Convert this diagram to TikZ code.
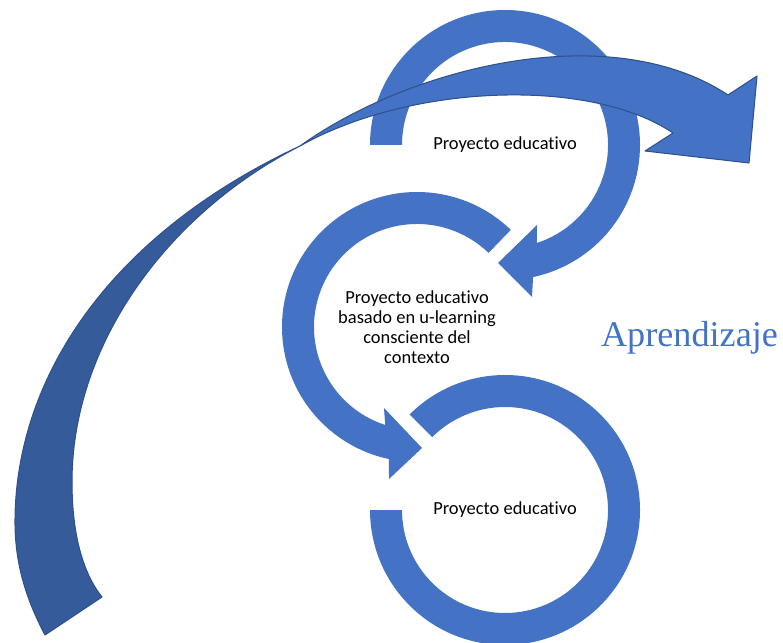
\documentclass[tikz,border=0pt]{standalone}
\usepackage{fontspec}
\setmainfont{Carlito}[Ligatures=NoCommon]
\newfontfamily\titlefont{Liberation Serif}
\usetikzlibrary{calc}
\usepackage{xcolor}
\definecolor{ringblue}{RGB}{68, 114, 196}
\definecolor{backblue}{RGB}{53, 91, 155}
\definecolor{edgeblue}{RGB}{47, 82, 143}
\definecolor{textdark}{RGB}{0, 0, 0}

\begin{document}
\begin{tikzpicture}[
    x=0.02cm, y=0.02cm,
    ring/.style={fill=ringblue, draw=none},
    sweep/.style={draw=edgeblue, line width=0.6pt, line join=round},
    cycletext/.style={font=\fontsize{10.5}{11.4}\selectfont, align=center, text=textdark, inner sep=0pt},
]
\useasboundingbox (0,0) rectangle (783,642);

% ring centres
\coordinate (c1) at (505,497);
\coordinate (c2) at (417,315);
\coordinate (c3) at (505,132);

% top ring
\fill[ring] ($(c1)+(180:135)$) arc[start angle=180, end angle=-78, radius=135]
    -- (532,345) -- (498,379) -- (537,417)
    -- ($(c1)+(-72:103)$) arc[start angle=-72, end angle=180, radius=103] -- cycle;

% middle ring
\fill[ring] ($(c2)+(46:135)$) arc[start angle=46, end angle=258, radius=135]
    -- (389,163) -- (422,194) -- (384,234)
    -- ($(c2)+(252:103)$) arc[start angle=252, end angle=46, radius=103] -- cycle;

% bottom ring
\fill[ring] ($(c3)+(135:135)$) arc[start angle=135, end angle=-180, radius=135]
    -- ($(c3)+(180:103)$) arc[start angle=-180, end angle=135, radius=103] -- cycle;

% big sweep, back face
\coordinate (twist) at (300,496);
\draw[sweep, fill=backblue] (45,7) .. controls (25,45) and (15,80) .. (15,120)
    .. controls (15,260) and (105,405) .. (twist)
    .. controls (170,430) and (72,300) .. (72,160)
    .. controls (72,110) and (82,70) .. (102,45) -- cycle;

% big sweep, front face with head
\draw[sweep, fill=ringblue] (twist) .. controls (410,575) and (610,625) .. (728,547)
    -- (757,566) -- (749,479) -- (645,491) -- (673,509)
    .. controls (590,565) and (410,558) .. (twist) -- cycle;

% texts
\node[cycletext] (first) at (c1) {Proyecto educativo};
\node[cycletext] (second) at (c2) {Proyecto educativo\\basado en u-learning\\consciente del\\contexto};
\node[cycletext] (third) at (c3) {Proyecto educativo};
\node[font=\titlefont\fontsize{20.6}{24}\selectfont, text=ringblue, anchor=base, inner sep=0pt] (aprendizaje) at (689.5,295) {Aprendizaje};

\end{tikzpicture}
\end{document}
